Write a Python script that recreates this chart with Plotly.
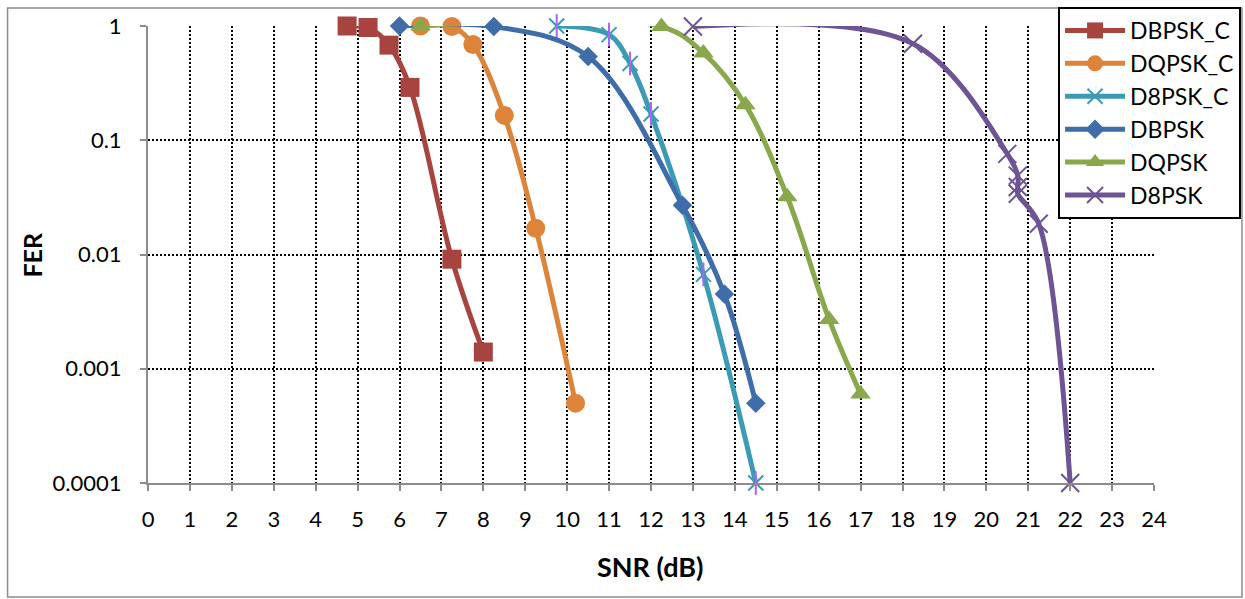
import plotly.graph_objects as go

# ---- data ----
dbpsk_c_x = [4.75, 5.25, 5.75, 6.25, 7.25, 8]
dbpsk_c_y = [1.0, 0.97, 0.68, 0.29, 0.0091, 0.0014]

dqpsk_c_x = [6.5, 7.25, 7.75, 8.5, 9.25, 10.2]
dqpsk_c_y = [1.0, 0.99, 0.69, 0.165, 0.017, 0.0005]

d8psk_c_x = [9.75, 11, 11.5, 12, 13.25, 14.5]
d8psk_c_y = [1.0, 0.84, 0.47, 0.17, 0.0067, 0.0001]

dbpsk_x = [6, 8.25, 10.5, 12.75, 13.75, 14.5]
dbpsk_y = [1.0, 0.99, 0.54, 0.027, 0.0045, 0.0005]

dqpsk_x = [6.5, 12.25, 13.25, 14.25, 15.25, 16.25, 17]
dqpsk_y = [1.0, 0.99, 0.58, 0.205, 0.032, 0.0027, 0.0006]

d8psk_x = [13, 18.25, 20.5, 20.75, 20.75, 20.75, 21.25, 22]
d8psk_y = [0.99, 0.70, 0.076, 0.049, 0.039, 0.034, 0.0186, 0.0001]

series_names = ["DBPSK_C", "DQPSK_C", "D8PSK_C", "DBPSK", "DQPSK", "D8PSK"]

y_tickvals = [0.0001, 0.001, 0.01, 0.1, 1]
y_ticktext = ["0.0001", "0.001", "0.01", "0.1", "1"]
x_tickvals = list(range(0, 25))

FONT = "Lato"

fig = go.Figure()

def add(name, xs, ys, color, symbol, size, mline=0, mcolor=None):
    fig.add_trace(go.Scatter(
        x=xs, y=ys, name=name, legendgroup=name, mode="lines+markers",
        line=dict(color=color, width=5, shape="spline", smoothing=1.0),
        marker=dict(symbol=symbol, size=size,
                    color=mcolor if mcolor else color,
                    line=dict(width=mline, color=color)),
        cliponaxis=False,
    ))

add(series_names[0], dbpsk_c_x, dbpsk_c_y, "#A8443F", "square", 19)
add(series_names[1], dqpsk_c_x, dqpsk_c_y, "#DD843A", "circle", 19)
add(series_names[2], d8psk_c_x, d8psk_c_y, "#3C9BB4", "x-thin-open", 15, mline=2)
fig.add_trace(go.Scatter(
    x=d8psk_c_x, y=d8psk_c_y, mode="markers", showlegend=False,
    legendgroup=series_names[2], cliponaxis=False,
    marker=dict(symbol="line-ns-open", size=17, line=dict(width=2, color="#3C9BB4")),
))
add(series_names[3], dbpsk_x, dbpsk_y, "#3F6DAA", "diamond", 15)
add(series_names[4], dqpsk_x, dqpsk_y, "#8AA84B", "triangle-up", 18)
add(series_names[5], d8psk_x, d8psk_y, "#6E5494", "x-thin-open", 18, mline=2)

L, R, T, B = 147.5, 1154, 26, 483
W, H = 1245, 599
pw, ph = R - L, B - T

def px_x(p):
    return (p - L) / pw

def px_y(p):
    return (B - p) / ph

fig.update_layout(
    width=W, height=H, autosize=False,
    margin=dict(l=L, r=W - R, t=T, b=H - B, autoexpand=False),
    paper_bgcolor="white", plot_bgcolor="white",
    font=dict(family=FONT, size=22, color="black"),
    showlegend=True,
    legend=dict(
        x=px_x(1058), y=px_y(7), xanchor="left", yanchor="top",
        bgcolor="white", bordercolor="black", borderwidth=2,
        font=dict(family=FONT, size=23, color="black"),
        itemwidth=60, tracegroupgap=0,
    ),
    xaxis=dict(
        range=[0, 24], tickvals=x_tickvals, ticktext=[str(v) for v in x_tickvals],
        showgrid=True, gridcolor="black", gridwidth=2, griddash="2px,2px",
        showline=True, linecolor="#8c8c8c", linewidth=2,
        ticks="outside", ticklen=6, tickcolor="#8c8c8c", tickwidth=2,
        ticklabelstandoff=10, zeroline=False,
        tickfont=dict(family=FONT, size=22, color="black"),
    ),
    yaxis=dict(
        type="log", range=[-4, 0], tickvals=y_tickvals, ticktext=y_ticktext,
        showgrid=True, gridcolor="black", gridwidth=2, griddash="2px,2px",
        showline=True, linecolor="#8c8c8c", linewidth=2,
        ticks="outside", ticklen=6, tickcolor="#8c8c8c", tickwidth=2,
        ticklabelstandoff=14, zeroline=False,
        tickfont=dict(family=FONT, size=22, color="black"),
    ),
    annotations=[
        dict(text="<b>SNR (dB)</b>", xref="paper", yref="paper",
             x=px_x(650), y=px_y(566), xanchor="center", yanchor="middle",
             showarrow=False, font=dict(family=FONT, size=27, color="black")),
        dict(text="<b>FER</b>", xref="paper", yref="paper",
             x=px_x(31), y=px_y(255), xanchor="center", yanchor="middle",
             textangle=-90, showarrow=False,
             font=dict(family=FONT, size=25, color="black")),
    ],
    shapes=[
        dict(type="rect", xref="paper", yref="paper",
             x0=px_x(7), x1=px_x(1242), y0=px_y(597), y1=px_y(8),
             line=dict(color="#8c8c8c", width=1.5), layer="below"),
    ],
)

fig.write_html("out.html")
